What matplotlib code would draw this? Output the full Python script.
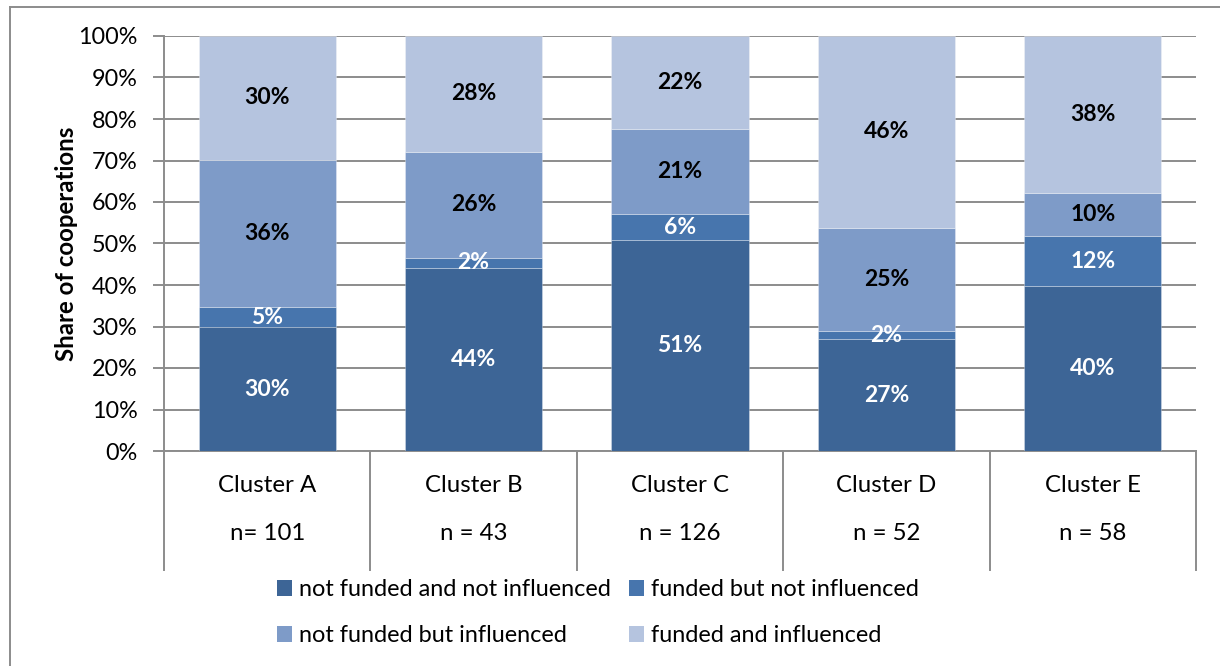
import matplotlib
matplotlib.use("Agg")
import matplotlib.pyplot as plt
from matplotlib.patches import Patch
from matplotlib.lines import Line2D

plt.rcParams['font.family'] = ['Lato', 'DejaVu Sans']

clusters = ["Cluster A", "Cluster B", "Cluster C", "Cluster D", "Cluster E"]
n_labels = ["n= 101", "n = 43", "n = 126", "n = 52", "n = 58"]
series_names = ["not funded and not influenced", "funded but not influenced",
                "not funded but influenced", "funded and influenced"]
not_funded_not_influenced = [29.8, 44.2, 50.8, 26.9, 39.7]
funded_not_influenced = [4.8, 2.3, 6.3, 1.9, 12.1]
not_funded_influenced = [35.6, 25.6, 20.6, 25.0, 10.3]
funded_influenced = [29.8, 27.9, 22.3, 46.2, 37.9]
series = [not_funded_not_influenced, funded_not_influenced,
          not_funded_influenced, funded_influenced]
colors = ["#3D6596", "#4775AD", "#7E9BC8", "#B5C4DF"]
label_colors = ["white", "white", "black", "black"]
yticks = [0, 10, 20, 30, 40, 50, 60, 70, 80, 90, 100]

FS = 17.3
W, H = 1220, 666
fig = plt.figure(figsize=(W / 100, H / 100), dpi=100)
x0, x1, y0, y1 = 164, 1196, 451, 36
ax = fig.add_axes([x0 / W, 1 - y0 / H, (x1 - x0) / W, (y0 - y1) / H])

grid_c = "#8C8C8C"
xs = list(range(len(clusters)))
bottom = [0.0] * len(clusters)
for vals, col, lc in zip(series, colors, label_colors):
    ax.bar(xs, vals, bottom=bottom, width=0.665, color=col,
           edgecolor=(1, 1, 1, 0.35), linewidth=0.6, zorder=3)
    for i, v in enumerate(vals):
        ax.text(i, bottom[i] + v / 2, f"{round(v):d}%", ha="center", va="center",
                color=lc, fontsize=16.5, fontweight="bold", zorder=4)
    bottom = [b + v for b, v in zip(bottom, vals)]

ax.set_xlim(-0.5, len(clusters) - 0.5)
ax.set_ylim(0, 100)
ax.set_yticks(yticks)
ax.set_yticklabels([f"{t}%" for t in yticks], fontsize=16.8)
ax.yaxis.grid(True, color=grid_c, linewidth=1.4, zorder=0)
ax.set_axisbelow(True)
ax.tick_params(axis="y", length=8, width=1.4, color=grid_c, pad=11)
ax.set_xticks([])
for s in ["top", "right"]:
    ax.spines[s].set_visible(False)
for s in ["left", "bottom"]:
    ax.spines[s].set_color(grid_c)
    ax.spines[s].set_linewidth(1.4)
ax.set_ylabel("Share of cooperations", fontsize=FS, fontweight="bold", labelpad=0)

# category table below the axis
tr = ax.get_xaxis_transform()
ybot = (y0 - 570) / (y0 - y1)
for b in [i - 0.5 for i in range(len(clusters) + 1)]:
    ax.add_line(Line2D([b, b], [0, ybot], transform=tr, color=grid_c,
                       linewidth=1.4, clip_on=False))
yc = (y0 - 486) / (y0 - y1)
yn = (y0 - 533) / (y0 - y1)
for i, (c, n) in enumerate(zip(clusters, n_labels)):
    ax.text(i, yc, c, transform=tr, ha="center", va="center", fontsize=FS)
    ax.text(i, yn, n, transform=tr, ha="center", va="center", fontsize=FS)

# legend
LFS = 16.9
handles = [Patch(facecolor=c, edgecolor="none") for c in colors]
order = [0, 2, 1, 3]
fig.legend([handles[i] for i in order], [series_names[i] for i in order],
           ncol=2, loc="upper left", bbox_to_anchor=(277 / W, 1 - 579 / H),
           frameon=False, fontsize=LFS, handlelength=0.65, handleheight=0.65,
           handletextpad=0.3, columnspacing=0.75, labelspacing=1.08,
           borderpad=0, borderaxespad=0)

# outer frame (top and left edges)
fig.add_artist(Line2D([10 / W, 1.0], [1 - 7 / H, 1 - 7 / H], transform=fig.transFigure,
                      color=grid_c, linewidth=1.4))
fig.add_artist(Line2D([10 / W, 10 / W], [0, 1 - 7 / H], transform=fig.transFigure,
                      color=grid_c, linewidth=1.4))

fig.savefig("out.png", dpi=100)
